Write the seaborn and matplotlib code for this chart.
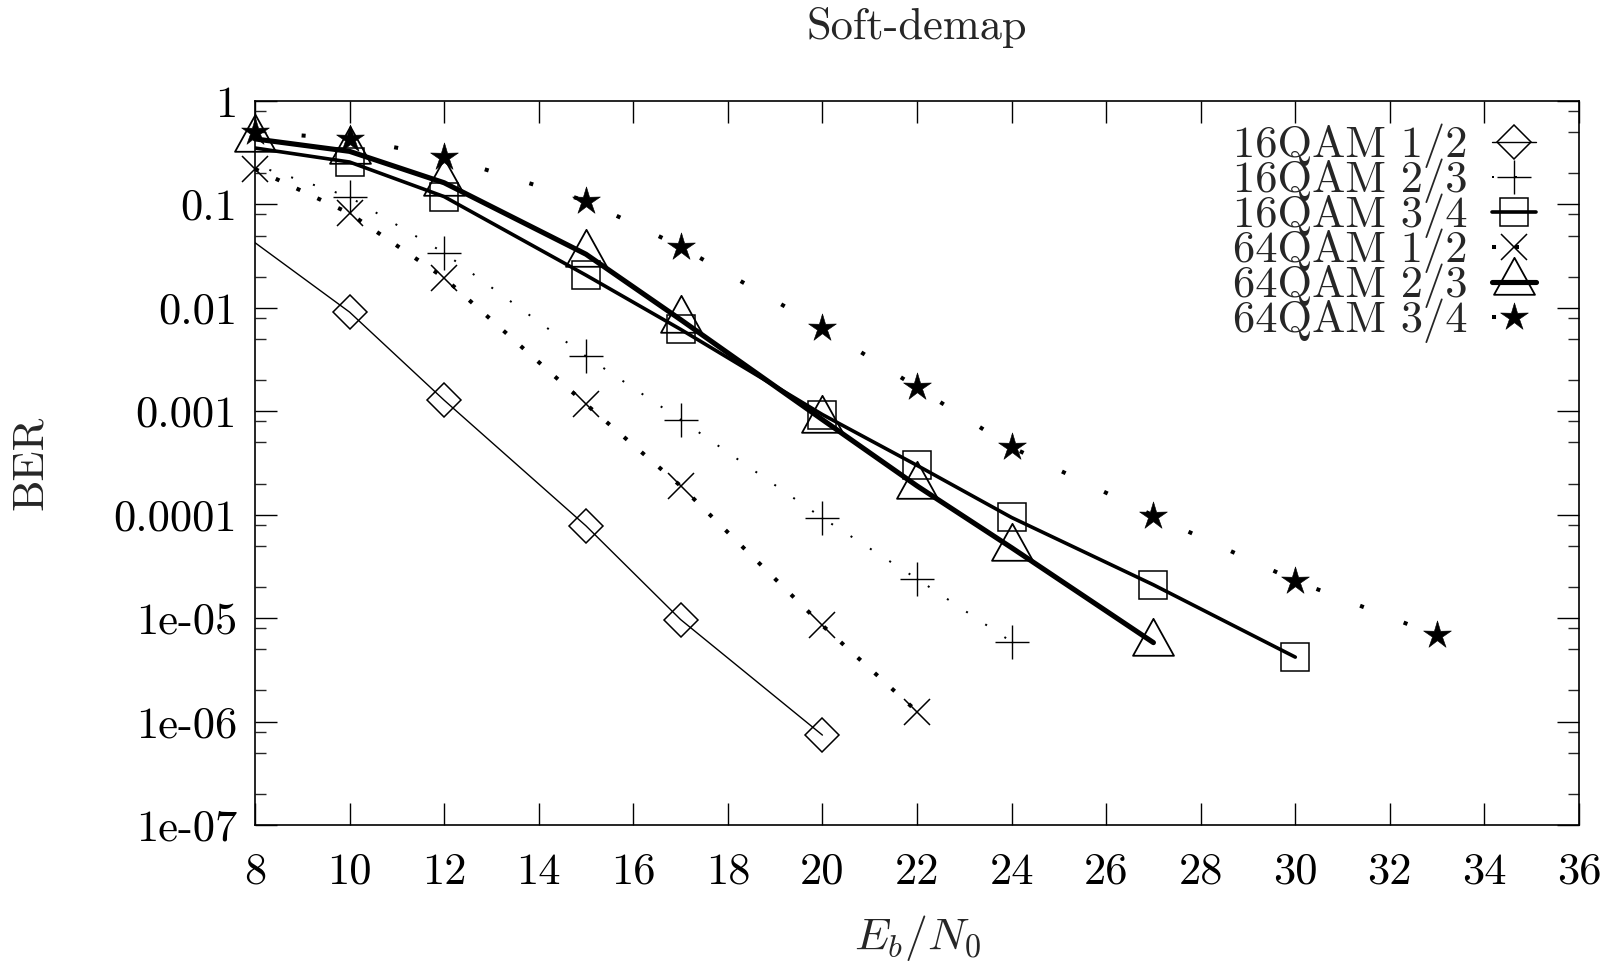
import numpy as np
import pandas as pd
import matplotlib
matplotlib.use("Agg")
import matplotlib.pyplot as plt
from matplotlib.path import Path
from matplotlib.ticker import FixedLocator, FixedFormatter, NullFormatter
import seaborn as sns

# ---------------- data ----------------
x_16_12 = [6, 10, 12, 15, 17, 20]
y_16_12 = [0.2, 0.0091, 0.00128, 7.8e-5, 9.7e-6, 7.4e-7]

x_16_23 = [6, 10, 12, 15, 17, 20, 22, 24]
y_16_23 = [0.49, 0.118, 0.034, 0.0034, 8.3e-4, 9.3e-5, 2.4e-5, 5.9e-6]

x_16_34 = [6, 10, 12, 15, 17, 20, 22, 24, 27, 30]
y_16_34 = [0.48, 0.257, 0.119, 0.0207, 0.0062, 9.3e-4, 3.0e-4, 9.4e-5, 2.1e-5, 4.2e-6]

x_64_12 = [8, 10, 12, 15, 17, 20, 22]
y_64_12 = [0.22, 0.082, 0.0195, 0.00117, 1.9e-4, 8.5e-6, 1.25e-6]

x_64_23 = [8, 10, 12, 15, 17, 20, 22, 24, 27]
y_64_23 = [0.43, 0.326, 0.162, 0.033, 0.0077, 8.3e-4, 1.9e-4, 4.8e-5, 5.8e-6]

x_64_34 = [8, 10, 12, 15, 17, 20, 22, 24, 27, 30, 33]
y_64_34 = [0.5, 0.43, 0.29, 0.108, 0.039, 0.0064, 0.0017, 4.5e-4, 9.8e-5, 2.3e-5, 6.8e-6]

labels = ["16QAM 1/2", "16QAM 2/3", "16QAM 3/4", "64QAM 1/2", "64QAM 2/3", "64QAM 3/4"]

x_ticks = [8, 10, 12, 14, 16, 18, 20, 22, 24, 26, 28, 30, 32, 34, 36]
x_ticklabels = ["8", "10", "12", "14", "16", "18", "20", "22", "24", "26", "28", "30", "32", "34", "36"]
y_ticks = [1, 0.1, 0.01, 0.001, 0.0001, 1e-5, 1e-6, 1e-7]
y_ticklabels = ["1", "0.1", "0.01", "0.001", "0.0001", "1e-05", "1e-06", "1e-07"]
y_minor_subs = [2, 5, 8]

title = "Soft-demap"
xlabel = r"$E_b/N_0$"
ylabel = "BER"

# ---------------- style ----------------
sns.set_style("ticks")
plt.rcParams["font.family"] = ["cmr10", "DejaVu Serif"]
plt.rcParams["mathtext.fontset"] = "cm"
plt.rcParams["axes.unicode_minus"] = False
plt.rcParams["axes.formatter.use_mathtext"] = True

FS = 32

fig = plt.figure(figsize=(16.15, 9.64), dpi=100)
ax = fig.add_axes([255 / 1615, 1 - 825 / 964, (1579 - 255) / 1615, (825 - 101) / 964])

# triangle with its centre 2/3 of the way down from the apex (gnuplot style)
tri = Path([(0, 24.7), (-20.5, -12.3), (20.5, -12.3), (0, 24.7)], closed=True)
# slender five-pointed star (LaTeX \star look)
ang = np.pi / 2 + np.arange(10) * np.pi / 5
rad = np.where(np.arange(10) % 2 == 0, 1.0, 0.36)
star_verts = np.column_stack([rad * np.cos(ang), rad * np.sin(ang)])
star = Path(np.vstack([star_verts, star_verts[:1]]), closed=True)

series = [
    (x_16_12, y_16_12, dict(lw=1.0, linestyle="-", marker="D", ms=17.5, mfc="none", mew=1.1, clip_on=True)),
    (x_16_23, y_16_23, dict(lw=1.44, linestyle=(0, (1, 10.5)), marker="+", ms=25, mew=1.0, clip_on=True)),
    (x_16_34, y_16_34, dict(lw=2.6, linestyle="-", marker="s", ms=20.5, mfc="none", mew=1.1, clip_on=True)),
    (x_64_12, y_64_12, dict(lw=2.9, linestyle=(0, (1, 4.7)), marker="x", ms=19, mew=1.1, clip_on=False)),
    (x_64_23, y_64_23, dict(lw=3.7, linestyle="-", marker=tri, ms=35.5, mfc="none", mew=1.3, clip_on=False)),
    (x_64_34, y_64_34, dict(lw=2.9, linestyle=(0, (1, 10.6)), marker=star, ms=21, mfc="black", mew=0.4, clip_on=False)),
]

for (xs, ys, kw), lab in zip(series, labels):
    df = pd.DataFrame({"x": xs, "y": ys})
    sns.lineplot(data=df, x="x", y="y", ax=ax, color="black", mec="black",
                 label=lab, sort=False, estimator=None, errorbar=None, **kw)

ax.set_yscale("log")
ax.set_xlim(8, 36)
ax.set_ylim(1e-7, 1)

ax.xaxis.set_major_locator(FixedLocator(x_ticks))
ax.xaxis.set_major_formatter(FixedFormatter(x_ticklabels))
ax.xaxis.set_minor_locator(FixedLocator([]))
ax.yaxis.set_major_locator(FixedLocator(y_ticks))
ax.yaxis.set_major_formatter(FixedFormatter(y_ticklabels))
minor_y = [s * 10.0 ** e for e in range(-7, 0) for s in y_minor_subs]
ax.yaxis.set_minor_locator(FixedLocator(minor_y))
ax.yaxis.set_minor_formatter(NullFormatter())

for sp in ax.spines.values():
    sp.set_linewidth(1.2)
    sp.set_color("black")

ax.tick_params(which="major", direction="in", length=15.5, width=1.0, top=True, right=True,
               labelsize=FS, colors="black")
ax.tick_params(which="minor", direction="in", length=8, width=1.0, top=True, right=True)
ax.tick_params(axis="x", which="major", pad=20)
ax.tick_params(axis="y", which="major", pad=13)

ax.set_xlabel(xlabel, fontsize=FS + 1)
ax.xaxis.set_label_coords(0.5, (964 - 938 - 139) / 724.0)
ax.xaxis.label.set_va("center")
ax.set_ylabel(ylabel, fontsize=FS)
ax.yaxis.set_label_coords((31 - 255) / 1324.0, 0.5)
ax.yaxis.label.set_va("center")

fig.text(917 / 1615, 1 - 39 / 964, title, fontsize=FS, ha="center", va="baseline")

handles, labs = ax.get_legend_handles_labels()
ax.legend(handles, labs, loc="upper right", bbox_to_anchor=(1536 / 1615, 1 - 124 / 964),
          bbox_transform=fig.transFigure, frameon=False, markerfirst=False,
          handlelength=1.0, handletextpad=0.53, labelspacing=-0.215, borderpad=0,
          borderaxespad=0, fontsize=FS, numpoints=1)

ax.grid(False)
fig.savefig("out.png", dpi=100)
